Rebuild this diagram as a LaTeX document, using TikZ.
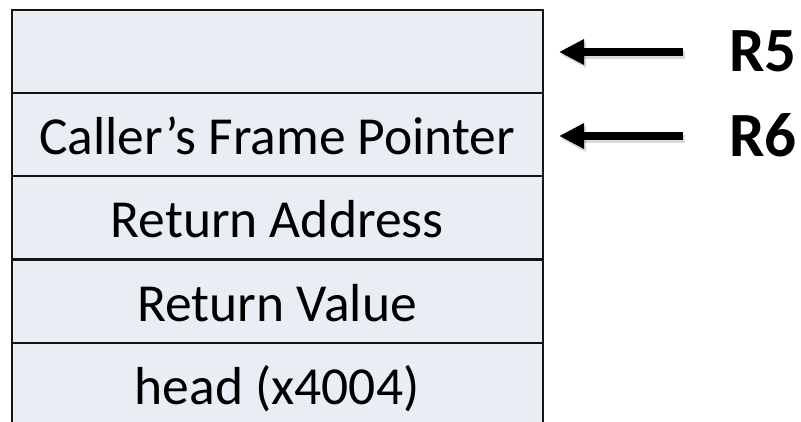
\documentclass[tikz,border=0pt]{standalone}
\usepackage{fontspec}
\setmainfont{Carlito}
\usetikzlibrary{arrows.meta}
\definecolor{cellfill}{RGB}{233,237,244}
\definecolor{cellline}{RGB}{20,20,20}
\tikzset{
  cell/.style={draw=cellline, line width=2.2pt, fill=cellfill, minimum width=531pt,
    minimum height=83pt, inner sep=0pt, text height=40pt, text depth=0pt,
    font=\fontsize{53.5}{60}\selectfont, anchor=north west},
  reglabel/.style={font=\fontsize{63}{70}\selectfont\bfseries, anchor=base, inner sep=0pt},
  ptr/.style={line width=7.5pt, -{Triangle[length=25pt,width=24pt]}},
  ptrshadow/.style={line width=7.5pt, -{Triangle[length=25pt,width=24pt]}, draw=black!60, opacity=0.25}
}
\begin{document}
\begin{tikzpicture}[x=1pt,y=-1pt]
\useasboundingbox (0,0) rectangle (801,422);
\node[cell] (r1) at (10.5,9) {};
\node[cell] (r2) at (10.5,92) {Caller’s Frame Pointer};
\node[cell] (r3) at (10.5,175) {Return Address};
\node[cell] (r4) at (10.5,259) {Return Value};
\node[cell] (r5) at (10.5,342) {head (x4004)};
\node[reglabel] (lR5) at (763,72) {R5};
\node[reglabel] (lR6) at (763,157) {R6};
\coordinate (t5) at (683,52);
\coordinate (h5) at (559,52);
\coordinate (t6) at (683,136);
\coordinate (h6) at (559,136);
\coordinate (st5) at (685,55);
\coordinate (sh5) at (561,55);
\coordinate (st6) at (685,139);
\coordinate (sh6) at (561,139);
\draw[ptrshadow] (st5) -- (sh5);
\draw[ptrshadow] (st6) -- (sh6);
\draw[ptr] (t5) -- (h5);
\draw[ptr] (t6) -- (h6);
\end{tikzpicture}
\end{document}
